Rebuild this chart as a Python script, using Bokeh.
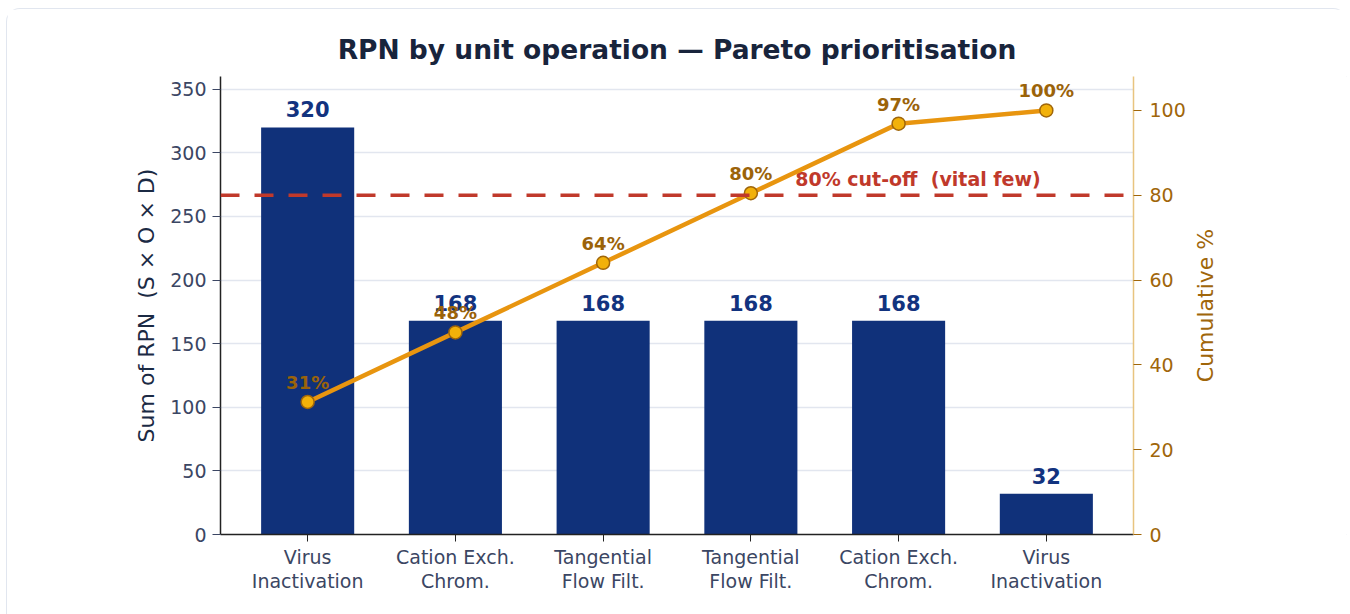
import math
from bokeh.plotting import figure
from bokeh.layouts import row
from bokeh.models import Range1d, LinearAxis, FixedTicker, Span, ColumnDataSource
from bokeh.core.properties import value
from bokeh.embed import file_html
from bokeh.resources import INLINE

# ---- data ----
categories = ["Virus\nInactivation", "Cation Exch.\nChrom.", "Tangential\nFlow Filt.",
              "Tangential\nFlow Filt.", "Cation Exch.\nChrom.", "Virus\nInactivation"]
rpn = [320, 168, 168, 168, 168, 32]
cum_pct = [31.25, 47.66, 64.06, 80.47, 96.88, 100.0]
cum_labels = ["31%", "48%", "64%", "80%", "97%", "100%"]
cutoff = 80
cutoff_label = "80% cut-off \u00a0(vital few)"
pct_axis_label = "Cumulative %"

FONT = "DejaVu Sans"
xs = list(range(len(categories)))

src = ColumnDataSource(dict(x=xs, rpn=rpn, rpn_txt=[str(v) for v in rpn],
                            cum=cum_pct, cum_txt=cum_labels))

p = figure(width=1186, height=606, x_range=Range1d(-0.59, 5.59), y_range=Range1d(0, 360),
           output_backend="svg", toolbar_location=None,
           min_border_left=213, min_border_right=60, min_border_top=67, min_border_bottom=81,
           title="RPN by unit operation \u2014 Pareto prioritisation")
p.outline_line_color = None
p.background_fill_color = "white"
p.border_fill_color = "white"

p.title.align = "center"
p.title.text_font = FONT
p.title.text_font_size = "26.5px"
p.title.text_font_style = "bold"
p.title.text_color = "#18243c"
p.title.standoff = 24

pct_range = Range1d(0, 108)
p.extra_y_ranges = {"pct": pct_range}

# grid
p.xgrid.grid_line_color = None
p.ygrid.grid_line_color = "#e2e6ef"
p.ygrid.grid_line_width = 1.5

# left axis
ya = p.yaxis[0]
ya.ticker = FixedTicker(ticks=[0, 50, 100, 150, 200, 250, 300, 350])
ya.axis_label = "Sum of RPN \u00a0(S \u00d7 O \u00d7 D)"
ya.axis_label_text_font = FONT
ya.axis_label_text_font_size = "22px"
ya.axis_label_text_font_style = "normal"
ya.axis_label_text_color = "#1b2a44"
ya.axis_label_standoff = 8
ya.major_label_text_font = FONT
ya.major_label_text_font_size = "19px"
ya.major_label_text_color = "#3b4663"
ya.major_label_standoff = 6
ya.axis_line_color = "#222222"
ya.axis_line_width = 1.5
ya.major_tick_line_color = "#3b4663"
ya.major_tick_out = 8
ya.major_tick_in = 0
ya.minor_tick_line_color = None

# x axis
xa = p.xaxis[0]
xa.ticker = FixedTicker(ticks=xs)
xa.major_label_overrides = {i: c for i, c in zip(xs, categories)}
xa.major_label_text_font = FONT
xa.major_label_text_font_size = "19px"
xa.major_label_text_color = "#3b4663"
xa.major_label_standoff = 4
xa.major_label_text_line_height = 1.1
xa.axis_line_color = "#222222"
xa.axis_line_width = 1.5
xa.major_tick_line_color = "#222222"
xa.major_tick_out = 7
xa.major_tick_in = 0
xa.minor_tick_line_color = None

# right axis
ra = LinearAxis(y_range_name="pct", ticker=FixedTicker(ticks=[0, 20, 40, 60, 80, 100]))
ra.major_label_text_font = FONT
ra.major_label_text_font_size = "19px"
ra.major_label_text_color = "#a0660a"
ra.major_label_standoff = 8
ra.axis_line_color = "#e8c47f"
ra.axis_line_width = 1.5
ra.major_tick_line_color = "#a0660a"
ra.major_tick_out = 8
ra.major_tick_in = 0
ra.minor_tick_line_color = None
p.add_layout(ra, "right")

# bars
p.vbar(x="x", top="rpn", width=0.63, source=src, fill_color="#10317a", line_color=None)
p.text(x="x", y="rpn", text="rpn_txt", source=src, text_align="center", text_baseline="bottom",
       y_offset=-10, text_font=value(FONT), text_font_size="21px", text_font_style="bold",
       text_color="#12337f")

# cutoff line + label
p.add_layout(Span(location=cutoff, dimension="width", y_range_name="pct",
                  line_color="#c0392b", line_width=3.5, line_dash="19 15"))
p.text(x=[3.3], y=[cutoff], text=[cutoff_label], y_range_name="pct", text_align="left",
       text_baseline="bottom", y_offset=-5, text_font=value(FONT), text_font_size="19px",
       text_font_style="bold", text_color="#c0392b")

# cumulative line
p.line(x="x", y="cum", source=src, y_range_name="pct", line_color="#e8950f", line_width=4.5)
p.scatter(x="x", y="cum", source=src, y_range_name="pct", size=13, fill_color="#f2b10a",
          line_color="#a0660a", line_width=1.5)
p.text(x="x", y="cum", text="cum_txt", source=src, y_range_name="pct", text_align="center",
       text_baseline="bottom", y_offset=-9, text_font=value(FONT), text_font_size="18px",
       text_font_style="bold", text_color="#9b6309")

# narrow companion panel carrying the right-axis title (reads bottom-to-top)
p2 = figure(width=155, height=606, x_range=Range1d(0, 155), y_range=Range1d(0, 108),
            output_backend="svg", toolbar_location=None, x_axis_location=None,
            y_axis_location=None, min_border_left=0, min_border_right=0,
            min_border_top=67, min_border_bottom=81)
p2.outline_line_color = None
p2.grid.grid_line_color = None
p2.background_fill_color = "white"
p2.border_fill_color = "white"
p2.text(x=[12], y=[54], text=[pct_axis_label], angle=math.pi / 2, text_align="center",
        text_baseline="middle", text_font=value(FONT), text_font_size="22px",
        text_color="#a0660a")

lay = row(p, p2)
lay.spacing = 0
lay.styles = {"border": "1.5px solid #e1e6ef", "border-bottom": "none",
              "border-radius": "14px 14px 0 0", "margin": "8px 0 0 6px",
              "background": "white", "width": "1341px"}

open("out.html", "w").write(file_html(lay, INLINE))
